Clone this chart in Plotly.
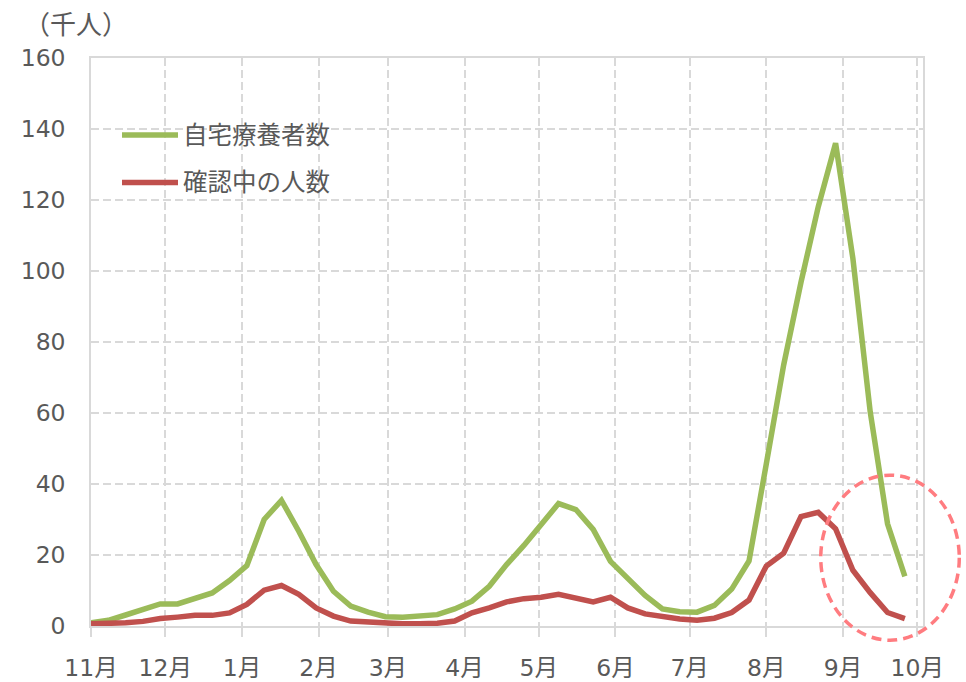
import pandas as pd
import plotly.graph_objects as go

# Weekly figures (thousands of people), Nov 2020 - Sep 2021
start_date = "2020-11-01"
week_count = 48
home_care = [0.9, 1.6, 3.1, 4.8, 6.2, 6.2, 7.7, 9.3, 12.8, 17.0, 30.0, 35.4,
             26.7, 17.3, 9.8, 5.6, 3.9, 2.6, 2.5, 2.8, 3.2, 4.8, 7.0, 11.2,
             17.3, 22.7, 28.6, 34.5, 32.8, 27.2, 18.2, 13.5, 8.6, 4.8, 4.0, 3.9,
             5.8, 10.4, 18.3, 45.7, 73.5, 96.8, 118.1, 136.0, 103.5, 60.3, 28.8, 14.0]
under_review = [0.6, 0.7, 0.9, 1.3, 2.1, 2.5, 3.0, 3.0, 3.7, 6.1, 10.1, 11.4,
                8.9, 5.1, 2.8, 1.4, 1.1, 0.9, 0.6, 0.6, 0.8, 1.4, 3.7, 5.1,
                6.8, 7.7, 8.1, 8.9, 7.7, 6.8, 8.1, 5.1, 3.4, 2.6, 2.0, 1.6,
                2.2, 3.8, 7.3, 16.9, 20.5, 30.8, 32.0, 27.4, 15.7, 9.4, 3.8, 2.1]
series_names = ["自宅療養者数", "確認中の人数"]
series_colors = ["#9BBB59", "#C0504D"]
month_labels = ["11月", "12月", "1月", "2月", "3月", "4月", "5月", "6月",
                "7月", "8月", "9月", "10月"]
unit_label = "（千人）"

# Highlighted span (dates, values)
focus_dates = ["2021-08-23", "2021-10-18"]
focus_values = [-4.0, 42.5]

dates = pd.date_range(start_date, periods=week_count, freq="7D")
month_starts = pd.date_range(start_date, periods=len(month_labels), freq="MS")
x_range = [pd.Timestamp(start_date), pd.Timestamp("2021-10-03 08:00")]
y_range = [0, 160]

GRID = "#D9D9D9"
TEXT = "#595959"
FONT = "DejaVu Sans, Noto Sans CJK JP, sans-serif"

fig = go.Figure()
for name, vals, col in zip(series_names, [home_care, under_review], series_colors):
    fig.add_trace(go.Scatter(x=dates, y=vals, mode="lines", name=name,
                             line=dict(color=col, width=5.5),
                             showlegend=False))

W, H = 966, 682
ml, mr, mt, mb = 91, 43, 58, 56
pw, ph = W - ml - mr, H - mt - mb


def px_to_paper(x, y):
    return (x - ml) / pw, (H - mb - y) / ph


# Hand-drawn legend block inside the plot area
shapes = []
annotations = []
for i, (name, col) in enumerate(zip(series_names, series_colors)):
    ly = 135 + i * 47.5
    x0, y0 = px_to_paper(122, ly)
    x1, _ = px_to_paper(178, ly)
    shapes.append(dict(type="line", xref="paper", yref="paper",
                       x0=x0, x1=x1, y0=y0, y1=y0,
                       line=dict(color=col, width=5.5)))
    tx, _ = px_to_paper(181, ly)
    annotations.append(dict(text=name, xref="paper", yref="paper", x=tx, y=y0,
                            xanchor="left", yanchor="middle", showarrow=False,
                            font=dict(family=FONT, size=24.5, color=TEXT)))

# Dashed ellipse around the latest weeks
span = (x_range[1] - x_range[0]).total_seconds()
fx = [(pd.Timestamp(d) - x_range[0]).total_seconds() / span for d in focus_dates]
fy = [(v - y_range[0]) / (y_range[1] - y_range[0]) for v in focus_values]
shapes.append(dict(type="circle", xref="paper", yref="paper",
                   x0=fx[0], x1=fx[1], y0=fy[0], y1=fy[1],
                   line=dict(color="#FF7C80", width=3.5, dash="10px,6px")))

tx, ty = px_to_paper(22, 25)
annotations.append(dict(text=unit_label, xref="paper", yref="paper", x=tx, y=ty,
                        xanchor="left", yanchor="middle", showarrow=False,
                        font=dict(family=FONT, size=26, color=TEXT)))

fig.update_layout(
    width=W, height=H,
    margin=dict(l=ml, r=mr, t=mt, b=mb, autoexpand=False),
    paper_bgcolor="white", plot_bgcolor="white",
    shapes=shapes, annotations=annotations,
    xaxis=dict(type="date", range=x_range, automargin=False,
               tickvals=month_starts, ticktext=month_labels,
               showgrid=True, gridcolor=GRID, gridwidth=1.5, griddash="8px,4px",
               showline=True, linecolor=GRID, linewidth=1.5, mirror=True,
               ticks="outside", ticklen=9, tickcolor=GRID, tickwidth=1.5,
               tickfont=dict(family=FONT, size=23.5, color=TEXT),
               ticklabelstandoff=11, zeroline=False),
    yaxis=dict(range=y_range, dtick=20, tick0=0, automargin=False,
               showgrid=True, gridcolor=GRID, gridwidth=1.5, griddash="8px,4px",
               showline=True, linecolor=GRID, linewidth=1.5, mirror=True,
               ticks="", tickfont=dict(family=FONT, size=23.5, color=TEXT),
               ticklabelstandoff=19, zeroline=False),
)

fig.write_html("out.html")
